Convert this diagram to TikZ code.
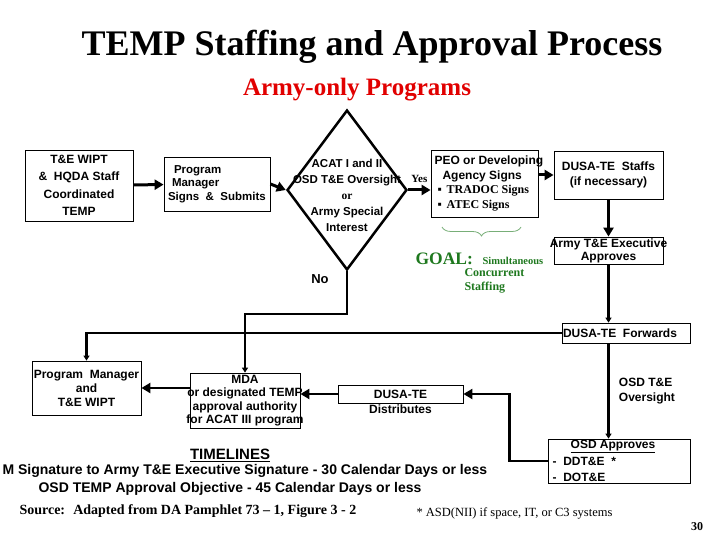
\documentclass[tikz,border=0pt]{standalone}
\usepackage{fontspec}
\setmainfont{Liberation Sans}
\newfontfamily\timesfont{Liberation Serif}
\usetikzlibrary{arrows.meta,shapes.geometric,decorations.pathreplacing}
\definecolor{goalgreen}{RGB}{30,120,30}
\definecolor{titlered}{RGB}{225,0,0}
\tikzset{
  box/.style={draw, line width=0.8pt, align=center, inner sep=0pt, font=\bfseries\fontsize{12}{16}\selectfont},
  flow/.style={line width=3pt, -{Triangle[length=9pt,width=10pt]}},
  link/.style={line width=2.2pt, -{Triangle[length=5pt,width=6pt]}},
  note/.style={font=\bfseries\fontsize{12}{15}\selectfont, align=center},
}
\begin{document}
\begin{tikzpicture}[x=1pt, y=-1pt, line join=miter]
\useasboundingbox (0,0) rectangle (720,540);
% titles
\node[font=\timesfont\bfseries\fontsize{36}{40}\selectfont] (title) at (372,47) {TEMP Staffing and Approval Process};
\node[font=\timesfont\bfseries\fontsize{25}{28}\selectfont, text=titlered] (sub) at (357,90) {Army-only Programs};

% top row
\node[box, minimum width=108, minimum height=71, font=\bfseries\fontsize{12}{17.5}\selectfont] (wipt) at (79,185.5) {T\&E WIPT\\ \& \ HQDA Staff\\Coordinated\\TEMP};
\node[box, minimum width=106, minimum height=54, align=left, font=\bfseries\fontsize{11.5}{13.5}\selectfont] (pmsign) at (217,184) {\hspace*{6pt}Program\\\hspace*{4pt}Manager\\\makebox[98pt][l]{Signs \ \& \ Submits}};
\node[draw, diamond, line width=2.5pt, minimum width=120, minimum height=160, inner sep=0pt] (acat) at (347,190) {};
\node[note, font=\bfseries\fontsize{11.5}{16}\selectfont] (acattext) at (347,195) {ACAT I and II\\OSD T\&E Oversight\\{\timesfont or}\\Army Special\\Interest};
\node[box, minimum width=107, minimum height=67, align=left, font=\bfseries\fontsize{12}{14.5}\selectfont] (peo) at (484.5,183.5) {\makebox[100pt][l]{PEO or Developing}\\\hspace*{8pt}Agency Signs\\{\timesfont \hspace*{3pt}▪ \,TRADOC Signs}\\{\timesfont \hspace*{3pt}▪ \,ATEC Signs}};
\node[box, minimum width=109, minimum height=48, font=\bfseries\fontsize{12}{15}\selectfont] (staffs) at (608.5,175) {DUSA-TE \ Staffs\\(if necessary)};
\node[box, minimum width=109, minimum height=27, font=\bfseries\fontsize{12}{13}\selectfont] (exec) at (608.5,250.5) {\makebox[100pt]{Army T\&E Executive}\\Approves};

\draw[flow] (wipt) -- (pmsign);
\draw[flow] (pmsign.east) -- (acat.west);
\draw[flow] (acat.east) -- (acat.east -| peo.west) node[midway, above=3pt, font=\timesfont\bfseries\fontsize{11}{12}\selectfont] {Yes};
\draw[flow] (peo.east |- staffs.west) -- (staffs.west);
\draw[flow] (staffs) -- (exec);

% goal
\draw[goalgreen!60, line width=0.8pt, decorate, decoration={brace, mirror, amplitude=9pt}] (442,227) -- (521,227);
\node[font=\timesfont\bfseries\fontsize{17.5}{18}\selectfont, text=goalgreen, anchor=base west] (goal) at (412,264) {GOAL:};
\node[font=\timesfont\bfseries\fontsize{10.5}{14}\selectfont, text=goalgreen, anchor=base west] (simul) at (goal.base east) {\ Simultaneous};
\node[font=\timesfont\bfseries\fontsize{12}{14}\selectfont, text=goalgreen, align=left, anchor=north west] (conc) at (461,265) {Concurrent\\Staffing};

% middle
\node[box, minimum width=128, minimum height=20, align=left] (fwd) at (626,333) {DUSA-TE \ Forwards\hspace*{12pt}};
\node[box, minimum width=142, minimum height=44, align=left, font=\bfseries\fontsize{12}{16.5}\selectfont] (osd) at (619,461) {\hspace*{18pt}\underline{OSD Approves}\hspace*{30pt}\\- \ DDT\&E \ *\\- \ DOT\&E};
\node[box, minimum width=125, minimum height=18] (dist) at (400.5,394) {DUSA-TE};
\node[note] (distlab) at (400.5,409) {Distributes};
\node[box, minimum width=110, minimum height=55, font=\bfseries\fontsize{12}{13.5}\selectfont] (mda) at (245,400.5) {MDA\\\makebox[100pt]{or designated TEMP}\\\makebox[100pt]{approval authority}\\\makebox[100pt]{for ACAT III program}};
\node[box, minimum width=109, minimum height=54, font=\bfseries\fontsize{12}{14}\selectfont] (pmwipt) at (86.5,388) {\makebox[100pt]{Program \ Manager}\\and\\T\&E WIPT};

\draw[link] (exec.south) -- (exec.south |- fwd.north);
\draw[link] (exec.south |- fwd.south) -- (exec.south |- osd.north) node[midway, right=6pt, note, align=left] {OSD T\&E\\Oversight};
\draw[flow, line width=2.5pt] (osd.west) -- ++(-38,0) |- (dist.east);
\draw[flow, line width=2.5pt] (dist.west) -- (dist.west -| mda.east);
\draw[flow, line width=2.5pt] (pmwipt.east -| mda.west) -- (pmwipt.east);
\draw[link] (acat.south) -- ++(0,43) -| (mda.north);
\node[note, font=\bfseries\fontsize{13}{15}\selectfont] (no) at (320,279) {No};
\draw[link] (fwd.west) -| (pmwipt.north);

% timelines
\node[font=\bfseries\fontsize{15}{17}\selectfont] (tl) at (230,455) {\underline{TIMELINES}};
\node[font=\bfseries\fontsize{14}{16}\selectfont, anchor=west] (tl1) at (-1,471) {M Signature to Army T\&E Executive Signature - 30 Calendar Days or less};
\node[font=\bfseries\fontsize{14}{16}\selectfont] (tl2) at (230,489) {OSD TEMP Approval Objective - 45 Calendar Days or less};
\node[font=\timesfont\bfseries\fontsize{14}{16}\selectfont, anchor=west] (src) at (16,511) {Source: \ Adapted from DA Pamphlet 73 – 1, Figure 3 - 2};
\node[font=\timesfont\fontsize{12.5}{14}\selectfont, anchor=west] (foot) at (413,513) {* ASD(NII) if space, IT, or C3 systems};
\node[font=\timesfont\bfseries\fontsize{12}{14}\selectfont] (page) at (697,527) {30};
\end{tikzpicture}
\end{document}
